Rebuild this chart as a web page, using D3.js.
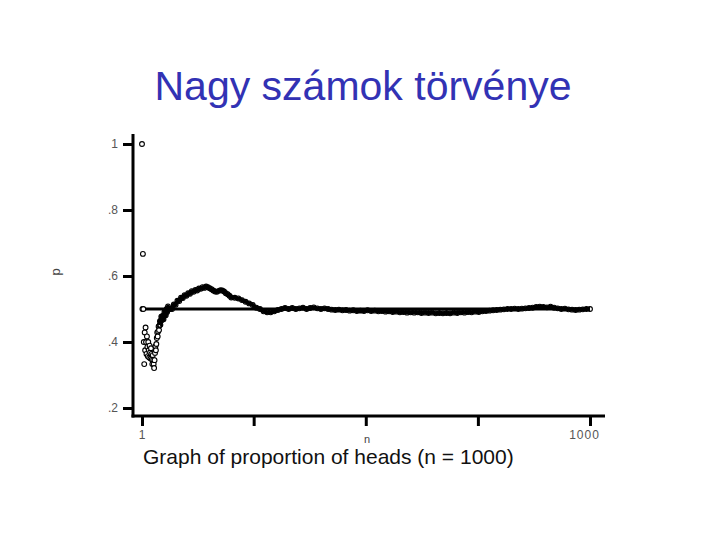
<!DOCTYPE html>
<html>
<head>
<meta charset="utf-8">
<script src="https://cdn.jsdelivr.net/npm/d3@7"></script>
<style>
  body { margin: 0; background: #fff; }
  text { font-family: "Liberation Sans", Arial, sans-serif; }
</style>
</head>
<body>
<div id="chart"></div>
<script>
// proportion of heads, n = 1..60 (every toss)
var propEarly = [
  1.0, 0.5, 0.667, 0.5, 0.4, 0.333, 0.429, 0.375, 0.444, 0.4,
  0.364, 0.417, 0.385, 0.357, 0.4, 0.375, 0.353, 0.389, 0.368, 0.35,
  0.381, 0.364, 0.348, 0.333, 0.36, 0.346, 0.333, 0.321, 0.345, 0.367,
  0.387, 0.375, 0.394, 0.412, 0.429, 0.417, 0.432, 0.447, 0.436, 0.45,
  0.463, 0.452, 0.465, 0.477, 0.467, 0.478, 0.468, 0.479, 0.469, 0.48,
  0.49, 0.481, 0.491, 0.481, 0.491, 0.5, 0.491, 0.5, 0.508, 0.5
];
// n = 64..200, every 4th toss
var propMid = [
  0.5, 0.5, 0.514, 0.513, 0.525, 0.524, 0.534, 0.533, 0.542, 0.54,
  0.548, 0.546, 0.554, 0.552, 0.558, 0.556, 0.562, 0.561, 0.566, 0.564,
  0.568, 0.566, 0.563, 0.56, 0.556, 0.553, 0.552, 0.555, 0.557, 0.556,
  0.553, 0.548, 0.545, 0.54, 0.535
];
// n = 208..1000, every 8th toss
var propLate = [
  0.534, 0.532, 0.527, 0.522, 0.517, 0.512, 0.504, 0.5, 0.493, 0.49,
  0.49, 0.493, 0.497, 0.5, 0.503, 0.5, 0.503, 0.5, 0.502, 0.504,
  0.5, 0.503, 0.505, 0.502, 0.5, 0.502, 0.5, 0.498, 0.497, 0.498,
  0.496, 0.497, 0.495, 0.496, 0.494, 0.495, 0.494, 0.496, 0.494, 0.495,
  0.493, 0.494, 0.492, 0.493, 0.491, 0.492, 0.49, 0.491, 0.489, 0.49,
  0.489, 0.49, 0.488, 0.489, 0.488, 0.489, 0.487, 0.488, 0.487, 0.488,
  0.487, 0.489, 0.488, 0.49, 0.489, 0.491, 0.49, 0.492, 0.491, 0.493,
  0.494, 0.495, 0.496, 0.497, 0.498, 0.499, 0.5, 0.5, 0.501, 0.5,
  0.501, 0.502, 0.503, 0.504, 0.506, 0.507, 0.506, 0.505, 0.507, 0.504,
  0.502, 0.5, 0.501, 0.499, 0.498, 0.497, 0.498, 0.499, 0.5, 0.5
];

var yTicks = [0.2, 0.4, 0.6, 0.8, 1];
var yTickLabels = [".2", ".4", ".6", ".8", "1"];
var xTicks = [1, 250, 500, 750, 1000];
var xTickLabels = ["1", "", "", "", "1000"];
var expected = 0.5;

var title = "Nagy számok törvénye";
var caption = "Graph of proportion of heads (n = 1000)";

// build points
var points = [];
propEarly.forEach((p, i) => points.push({n: i + 1, p: p}));
propMid.forEach((p, i) => points.push({n: 64 + i * 4, p: p}));
propLate.forEach((p, i) => points.push({n: 208 + i * 8, p: p}));

var width = 720, height = 540;

var svg = d3.select("#chart")
  .append("svg")
  .attr("width", width)
  .attr("height", height);

// SCALES
var x = d3.scaleLinear().domain([1, 1000]).range([142, 590]);
var y = d3.scaleLinear().domain([0.2, 1]).range([408, 144]);

// Title
svg.append("text")
  .attr("x", 363)
  .attr("y", 100)
  .attr("text-anchor", "middle")
  .attr("font-size", 41)
  .attr("fill", "#3232b4")
  .text(title);

// Axis lines (drawn thick, a bit past the data range)
var axisX0 = 133, axisY0 = 416;
svg.append("line")
  .attr("x1", axisX0).attr("x2", axisX0)
  .attr("y1", 134).attr("y2", axisY0 + 1.5)
  .attr("stroke", "black").attr("stroke-width", 3);
svg.append("line")
  .attr("x1", axisX0 - 1.5).attr("x2", 605)
  .attr("y1", axisY0).attr("y2", axisY0)
  .attr("stroke", "black").attr("stroke-width", 3);

// Y ticks
var yAxisCall = d3.axisLeft(y)
  .tickValues(yTicks)
  .tickSize(9)
  .tickPadding(5)
  .tickFormat((d, i) => yTickLabels[i]);
var yAxis = svg.append("g")
  .attr("transform", "translate(" + (axisX0 - 1) + ",0)")
  .call(yAxisCall);
yAxis.select(".domain").remove();
yAxis.selectAll(".tick line").attr("stroke", "black").attr("stroke-width", 3);
yAxis.selectAll(".tick text")
  .attr("font-family", "Liberation Sans, Arial, sans-serif")
  .attr("font-size", 12)
  .attr("fill", "#555");

// X ticks
var xAxisCall = d3.axisBottom(x)
  .tickValues(xTicks)
  .tickSize(9)
  .tickPadding(4)
  .tickFormat((d, i) => xTickLabels[i]);
var xAxis = svg.append("g")
  .attr("transform", "translate(0," + (axisY0 + 1) + ")")
  .call(xAxisCall);
xAxis.select(".domain").remove();
xAxis.selectAll(".tick line").attr("stroke", "black").attr("stroke-width", 3);
xAxis.selectAll(".tick text")
  .attr("font-family", "Liberation Sans, Arial, sans-serif")
  .attr("font-size", 12)
  .attr("letter-spacing", 1)
  .attr("fill", "#555");
xAxis.selectAll(".tick text").filter((d) => d == 1000).attr("dx", -6);

// Axis labels
svg.append("text")
  .attr("x", 367)
  .attr("y", 443)
  .attr("text-anchor", "middle")
  .attr("font-size", 11)
  .attr("fill", "#444")
  .text("n");

svg.append("text")
  .attr("transform", "translate(60,272) rotate(-90)")
  .attr("text-anchor", "middle")
  .attr("font-size", 13)
  .attr("fill", "#444")
  .text("p");

// Caption
svg.append("text")
  .attr("x", 143)
  .attr("y", 464)
  .attr("font-size", 21)
  .attr("fill", "#111")
  .text(caption);

// Reference line p = .5
svg.append("line")
  .attr("x1", x(1)).attr("x2", x(1000))
  .attr("y1", y(expected)).attr("y2", y(expected))
  .attr("stroke", "black").attr("stroke-width", 3);

// Running proportion path
var line = d3.line()
  .x(d => x(d.n))
  .y(d => y(d.p));

svg.append("path")
  .attr("fill", "none")
  .attr("stroke", "black")
  .attr("stroke-width", 4)
  .attr("stroke-linejoin", "round")
  .attr("d", line(points.filter(d => d.n >= 40)));

// Points
svg.append("g")
  .selectAll("circle")
  .data(points)
  .enter()
  .append("circle")
  .attr("cx", d => x(d.n))
  .attr("cy", d => y(d.p))
  .attr("r", 2.4)
  .attr("fill", d => d.n < 40 ? "white" : "none")
  .attr("stroke", "black")
  .attr("stroke-width", 1.1);
</script>
</body>
</html>
